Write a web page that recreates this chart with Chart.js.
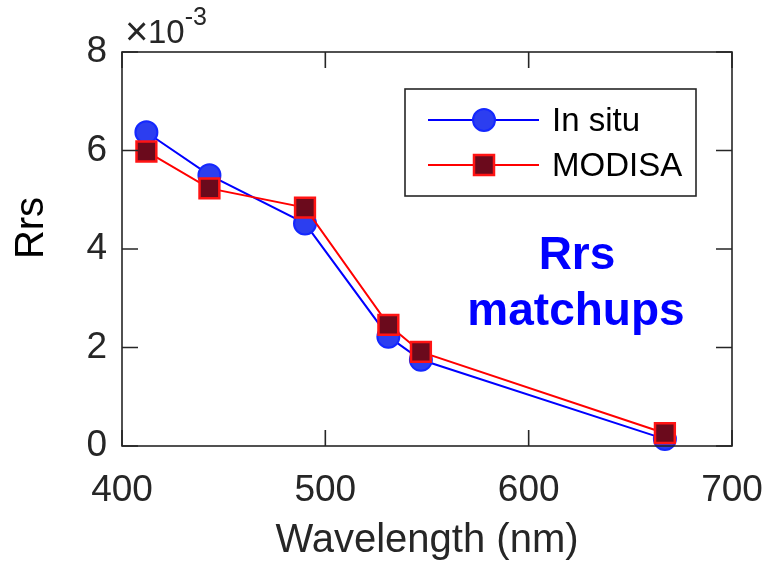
<!DOCTYPE html>
<html>
<head>
<meta charset="utf-8">
<script src="https://cdn.jsdelivr.net/npm/chart.js@4"></script>
<style>
  html, body { margin: 0; padding: 0; background: #fff; }
  #grafico { display: block; }
</style>
</head>
<body>
<canvas id="grafico" width="767" height="565"></canvas>
<script>
/* dados: comprimento de onda (nm) e Rrs (sr^-1) */
var ondaInSitu = [412, 443, 490, 531, 547, 667];
var rrsInSitu = [0.00637, 0.00550, 0.00452, 0.00222, 0.00175, 0.00014];
var ondaModis = [412, 443, 490, 531, 547, 667];
var rrsModis = [0.00598, 0.00523, 0.00484, 0.00246, 0.00191, 0.00026];
var rotulos = ['In situ', 'MODISA'];
var ticksX = [400, 500, 600, 700];
var ticksY = [0, 0.002, 0.004, 0.006, 0.008];

var corEixo = '#262626';
var fonte = '"Liberation Sans", Arial, Helvetica, sans-serif';

function pontos(xs, ys) {
    return xs.map(function (x, i) { return { x: x, y: ys[i] }; });
}

/* caixa, ticks para dentro, legenda e textos */
var extras = {
    id: 'extras',
    afterDatasetsDraw: function (chart) {
        var ctx = chart.ctx;
        var a = chart.chartArea;
        var sx = chart.scales.x, sy = chart.scales.y;
        ctx.save();
        ctx.strokeStyle = corEixo;
        ctx.lineWidth = 1.6;
        ctx.strokeRect(a.left, a.top, a.right - a.left, a.bottom - a.top);

        ctx.beginPath();
        ticksX.forEach(function (v) {
            var px = sx.getPixelForValue(v);
            ctx.moveTo(px, a.bottom); ctx.lineTo(px, a.bottom - 16);
            ctx.moveTo(px, a.top); ctx.lineTo(px, a.top + 16);
        });
        ticksY.forEach(function (v) {
            var py = sy.getPixelForValue(v);
            ctx.moveTo(a.left, py); ctx.lineTo(a.left + 16, py);
            ctx.moveTo(a.right, py); ctx.lineTo(a.right - 16, py);
        });
        ctx.stroke();

        // multiplicador do eixo y
        ctx.fillStyle = corEixo;
        ctx.textBaseline = 'alphabetic';
        ctx.textAlign = 'left';
        ctx.font = '40px ' + fonte;
        ctx.fillText('\u00d7', 125, 45);
        ctx.font = '33px ' + fonte;
        ctx.fillText('10', 148, 43);
        var w = ctx.measureText('10').width;
        ctx.font = '25px ' + fonte;
        ctx.fillText('-3', 148 + w, 25);

        // título do eixo y
        ctx.save();
        ctx.translate(43, 228);
        ctx.rotate(-Math.PI / 2);
        ctx.fillStyle = '#000';
        ctx.textAlign = 'center';
        ctx.font = '40px ' + fonte;
        ctx.fillText('Rrs', 0, 0);
        ctx.restore();

        // legenda
        var lx = 405, ly = 89, lw = 291, lh = 107;
        ctx.fillStyle = '#fff';
        ctx.fillRect(lx, ly, lw, lh);
        ctx.strokeStyle = corEixo;
        ctx.lineWidth = 1.6;
        ctx.strokeRect(lx, ly, lw, lh);
        var linhas = [ly + 31, ly + 76];
        chart.data.datasets.forEach(function (ds, i) {
            var yy = linhas[i];
            ctx.strokeStyle = ds.borderColor;
            ctx.lineWidth = 2;
            ctx.beginPath();
            ctx.moveTo(428, yy); ctx.lineTo(539, yy);
            ctx.stroke();
            ctx.fillStyle = ds.pointBackgroundColor;
            ctx.strokeStyle = ds.pointBorderColor;
            ctx.lineWidth = ds.pointBorderWidth;
            ctx.beginPath();
            if (ds.pointStyle === 'rect') {
                ctx.rect(484 - 10, yy - 10, 20, 20);
            } else {
                ctx.arc(484, yy, ds.pointRadius, 0, Math.PI * 2);
            }
            ctx.fill();
            ctx.stroke();
            ctx.fillStyle = '#000';
            ctx.font = '33px ' + fonte;
            ctx.textBaseline = 'middle';
            ctx.textAlign = 'left';
            ctx.fillText(ds.label, 552, yy + 2);
        });

        // anotação
        ctx.fillStyle = '#0000ff';
        ctx.font = 'bold 46px ' + fonte;
        ctx.textAlign = 'center';
        ctx.textBaseline = 'alphabetic';
        ctx.fillText('Rrs', 577, 269);
        ctx.fillText('matchups', 576, 325);
        ctx.restore();
    }
};

var ctx = document.getElementById('grafico').getContext('2d');
var grafico = new Chart(ctx, {
    type: 'line',
    data: {
        datasets: [{
            label: rotulos[0],
            data: pontos(ondaInSitu, rrsInSitu),
            borderColor: '#0000ff',
            borderWidth: 2,
            pointStyle: 'circle',
            pointRadius: 11,
            pointBackgroundColor: '#2c3ef0',
            pointBorderColor: '#1428ff',
            pointBorderWidth: 2,
            order: 2,
            clip: false
        }, {
            label: rotulos[1],
            data: pontos(ondaModis, rrsModis),
            borderColor: '#ff0000',
            borderWidth: 2,
            pointStyle: 'rect',
            pointRadius: 14,
            pointBackgroundColor: '#6b0a1c',
            pointBorderColor: '#ff1414',
            pointBorderWidth: 2.5,
            order: 1,
            clip: false
        }]
    },
    options: {
        responsive: false,
        animation: false,
        devicePixelRatio: 1,
        layout: { padding: { left: 0, top: 52, right: 35, bottom: 0 } },
        plugins: {
            legend: { display: false },
            tooltip: { enabled: false }
        },
        scales: {
            x: {
                type: 'linear',
                min: 400,
                max: 700,
                afterFit: function (s) {
                    s.height = 119;
                    s.paddingLeft = 0;
                    s.paddingRight = 0;
                },
                afterBuildTicks: function (s) { s.ticks = ticksX.map(function (v) { return { value: v }; }); },
                grid: { display: false, drawTicks: false },
                border: { display: false },
                ticks: {
                    color: corEixo,
                    font: { family: fonte, size: 37 },
                    padding: 23,
                    maxRotation: 0
                },
                title: {
                    display: true,
                    text: 'Wavelength (nm)',
                    color: corEixo,
                    font: { family: fonte, size: 40 },
                    padding: { top: 0, bottom: 0 }
                }
            },
            y: {
                type: 'linear',
                min: 0,
                max: 0.008,
                afterFit: function (s) {
                    s.width = 122;
                    s.paddingTop = 0;
                    s.paddingBottom = 0;
                },
                afterBuildTicks: function (s) { s.ticks = ticksY.map(function (v) { return { value: v }; }); },
                grid: { display: false, drawTicks: false },
                border: { display: false },
                ticks: {
                    color: corEixo,
                    font: { family: fonte, size: 37 },
                    padding: 15,
                    callback: function (v) { return Math.round(v * 1000); }
                }
            }
        }
    },
    plugins: [extras]
});
</script>
</body>
</html>
